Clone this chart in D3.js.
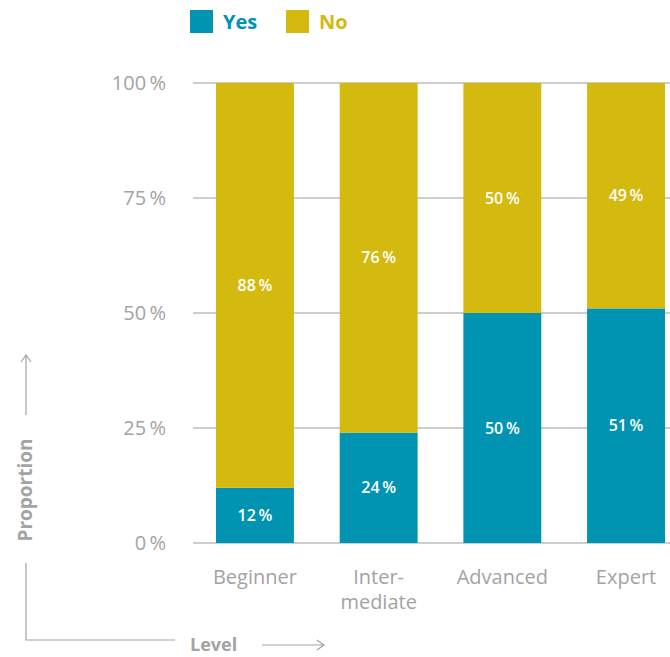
<!DOCTYPE html>
<html>
<head>
<meta charset="utf-8">
<script src="https://cdn.jsdelivr.net/npm/d3@7"></script>
<style>
  body { margin: 0; background: #fff; }
  svg { display: block; font-family: "Open Sans", sans-serif; }
</style>
</head>
<body>
<div id="chart"></div>
<script>
const width = 670,
    height = 657

const levels = ['Beginner', 'Intermediate', 'Advanced', 'Expert']
const levelLines = [['Beginner'], ['Inter-', 'mediate'], ['Advanced'], ['Expert']]
const yesValues = [12, 24, 50, 51]
const noValues = [88, 76, 50, 49]
const yTicks = [0, 25, 50, 75, 100]
const keys = ['yes', 'no']
const keyNames = {yes: 'Yes', no: 'No'}
const colors = ['#0093b2', '#d4b90f']

const rows = levels.map(function (d, i) {
    return {level: d, yes: yesValues[i], no: noValues[i]}
})

const svg = d3.select('#chart')
    .append('svg')
    .attr('width', width)
    .attr('height', height)

const x = d3.scaleBand()
    .domain(levels)
    .range([216, 665])
    .paddingInner(0.37)
    .paddingOuter(0)

const y = d3.scaleLinear()
    .domain([0, 100])
    .range([543, 83])

const color = d3.scaleOrdinal(keys, colors)

const series = d3.stack().keys(keys)(rows)

// gridlines
svg.append('g')
    .selectAll('line')
    .data(yTicks)
    .enter().append('line')
    .attr('x1', 193)
    .attr('x2', width)
    .attr('y1', d => y(d))
    .attr('y2', d => y(d))
    .attr('stroke', '#bdbdbd')
    .attr('stroke-width', 1.5)

// y tick labels
svg.append('g')
    .selectAll('text')
    .data(yTicks)
    .enter().append('text')
    .attr('x', 166)
    .attr('y', d => y(d))
    .attr('dy', '0.35em')
    .attr('text-anchor', 'end')
    .attr('fill', '#a3a3a3')
    .attr('font-size', 20)
    .text(d => d + '\u2009%')

// bars
const groups = svg.append('g')
    .selectAll('g')
    .data(series)
    .enter().append('g')
    .attr('fill', d => color(d.key))

groups.selectAll('rect')
    .data(d => d)
    .enter().append('rect')
    .attr('x', d => x(d.data.level))
    .attr('width', x.bandwidth())
    .attr('y', d => y(d[1]))
    .attr('height', d => y(d[0]) - y(d[1]))

// value labels
groups.selectAll('text')
    .data(function (d) {
        d.forEach(function (item) { item.key = d.key })
        return d
    })
    .enter().append('text')
    .attr('x', d => x(d.data.level) + x.bandwidth() / 2)
    .attr('y', d => (y(d[0]) + y(d[1])) / 2)
    .attr('dy', '0.35em')
    .attr('text-anchor', 'middle')
    .attr('fill', '#fff')
    .attr('font-size', 16)
    .attr('font-weight', 600)
    .text(d => d.data[d.key] + '\u2009%')

// category labels
svg.append('g')
    .selectAll('text')
    .data(levels)
    .enter().append('text')
    .attr('x', d => x(d) + x.bandwidth() / 2)
    .attr('y', 584)
    .attr('text-anchor', 'middle')
    .attr('fill', '#a3a3a3')
    .attr('font-size', 20)
    .each(function (d, i) {
        const t = d3.select(this)
        levelLines[i].forEach(function (line, j) {
            t.append('tspan')
                .attr('x', x(d) + x.bandwidth() / 2)
                .attr('dy', j === 0 ? 0 : 25)
                .text(line)
        })
    })

// legend
const legend = svg.append('g')
    .selectAll('g')
    .data(keys)
    .enter().append('g')
    .attr('transform', (d, i) => 'translate(' + (190 + i * 96) + ',10)')

legend.append('rect')
    .attr('width', 23)
    .attr('height', 23)
    .attr('fill', d => color(d))

legend.append('text')
    .attr('x', 33)
    .attr('y', 12)
    .attr('dy', '0.35em')
    .attr('fill', d => color(d))
    .attr('font-size', 20)
    .attr('font-weight', 'bold')
    .text(d => keyNames[d])

// axis titles with arrows
const axisGrey = '#a3a3a3'
svg.append('path')
    .attr('d', 'M26,355 V415 M21,362 L26,355 L31,362 M26,563 V640 H175 M262,645 H324 M317,640 L324,645 L317,650')
    .attr('fill', 'none')
    .attr('stroke', axisGrey)
    .attr('stroke-width', 1.2)

svg.append('text')
    .attr('transform', 'translate(32,490) rotate(-90)')
    .attr('text-anchor', 'middle')
    .attr('fill', axisGrey)
    .attr('font-size', 19)
    .attr('font-weight', 'bold')
    .text('Proportion')

svg.append('text')
    .attr('x', 190)
    .attr('y', 645)
    .attr('dy', '0.35em')
    .attr('fill', axisGrey)
    .attr('font-size', 18)
    .attr('font-weight', 'bold')
    .text('Level')
</script>
</body>
</html>
